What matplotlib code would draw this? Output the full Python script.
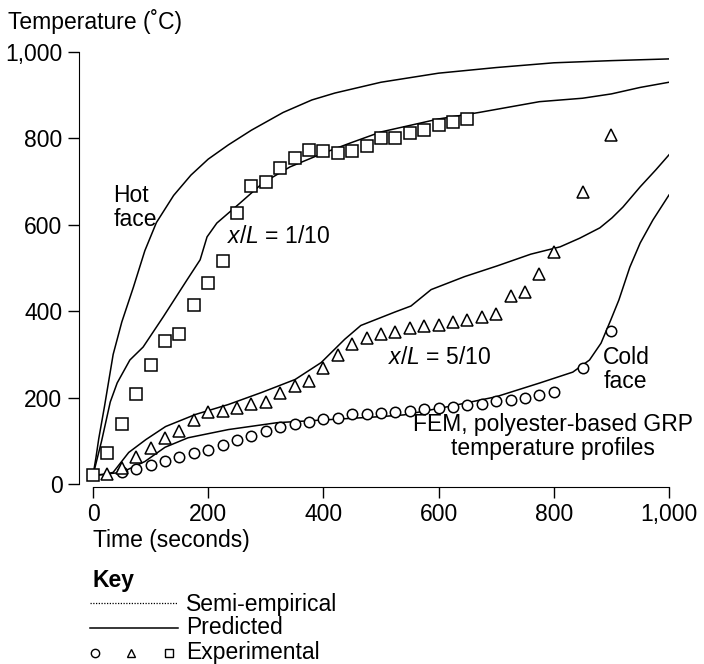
import numpy as np
import matplotlib
matplotlib.use('Agg')
import matplotlib.pyplot as plt
from matplotlib.lines import Line2D
from matplotlib.ticker import FuncFormatter

plt.rcParams['font.family'] = ['Liberation Sans', 'DejaVu Sans']
plt.rcParams['mathtext.fontset'] = 'custom'
plt.rcParams['mathtext.it'] = 'Liberation Sans:italic'
plt.rcParams['mathtext.rm'] = 'Liberation Sans'

# experimental points
t_sq = [0, 25, 50, 75, 100, 125, 150, 175, 200, 225, 250, 275, 300, 325, 350, 375,
        400, 425, 450, 475, 500, 525, 550, 575, 600, 625, 650]
T_sq = [20, 72, 140, 208, 275, 332, 348, 414, 466, 517, 628, 690, 700, 732, 755, 772,
        770, 766, 770, 782, 800, 800, 812, 820, 830, 837, 845]

t_tri = [25, 50, 75, 100, 125, 150, 175, 200, 225, 250, 275, 300, 325, 350, 375, 400,
         425, 450, 475, 500, 525, 550, 575, 600, 625, 650, 675, 700, 725, 750, 775, 800,
         850, 900]
T_tri = [22, 38, 62, 83, 106, 122, 148, 166, 169, 175, 185, 190, 210, 227, 238, 268,
         298, 324, 338, 347, 352, 361, 366, 368, 375, 379, 386, 393, 435, 444, 486, 537,
         676, 808]

t_circ = [50, 75, 100, 125, 150, 175, 200, 225, 250, 275, 300, 325, 350, 375, 400, 425,
          450, 475, 500, 525, 550, 575, 600, 625, 650, 675, 700, 725, 750, 775, 800,
          850, 900]
T_circ = [27, 34, 44, 53, 62, 71, 78, 90, 101, 111, 122, 131, 138, 143, 150, 152,
          162, 162, 164, 166, 168, 173, 175, 178, 182, 185, 192, 194, 199, 206, 213,
          268, 354]

# predicted curves
t_hot = [0, 5, 10, 20, 35, 50, 70, 90, 110, 140, 170, 200, 235, 275, 330, 380, 420,
         500, 600, 700, 800, 900, 1000]
T_hot = [20, 60, 105, 180, 300, 375, 455, 540, 605, 668, 715, 752, 785, 819, 860, 889,
         905, 930, 951, 964, 975, 980, 984]

t_110 = [0, 15, 30, 42, 64, 87, 122, 163, 186, 198, 215, 255, 295, 342, 400, 446, 500,
         600, 670, 775, 850, 900, 950, 1000]
T_110 = [20, 100, 190, 234, 287, 317, 387, 472, 519, 572, 604, 650, 697, 734, 766, 789,
         815, 845, 860, 885, 893, 903, 918, 930]

t_510 = [0, 20, 35, 62, 92, 126, 178, 235, 293, 351, 396, 437, 465, 524, 552, 587, 645,
         702, 760, 811, 845, 880, 901, 920, 950, 977, 1000]
T_510 = [20, 22, 27, 73, 103, 133, 161, 184, 212, 242, 281, 335, 367, 398, 412, 450,
         480, 505, 532, 549, 569, 593, 616, 641, 688, 727, 762]

t_cold = [0, 50, 90, 125, 165, 235, 320, 410, 500, 540, 620, 700, 776, 833, 862, 882,
          899, 913, 932, 950, 972, 1000]
T_cold = [20, 27, 52, 85, 107, 126, 142, 149, 156, 160, 180, 202, 234, 259, 287, 326,
          380, 426, 502, 558, 611, 669]

fs = 16.5
W, H = 704, 664
fig = plt.figure(figsize=(W / 100, H / 100), dpi=100)
ax = fig.add_axes([93 / W, (H - 484) / H, 576 / W, 432 / H])

lw = 1.1
for tt, TT in [(t_hot, T_hot), (t_110, T_110), (t_510, T_510), (t_cold, T_cold)]:
    ax.plot(tt, TT, color='black', lw=lw, zorder=2)

mk = dict(linestyle='none', markerfacecolor='white', markeredgecolor='black',
          markeredgewidth=1.1, zorder=3, clip_on=False)
ax.plot(t_circ, T_circ, marker='o', markersize=7.5, **mk)
ax.plot(t_tri, T_tri, marker='^', markersize=8, **mk)
ax.plot(t_sq, T_sq, marker='s', markersize=8, **mk)

ax.set_xlim(0, 1000)
ax.set_ylim(0, 1000)
ax.set_xticks(range(0, 1001, 200))
ax.set_yticks(range(0, 1001, 200))
fmt = FuncFormatter(lambda v, p: f'{int(v):,}')
ax.xaxis.set_major_formatter(fmt)
ax.yaxis.set_major_formatter(fmt)
ax.tick_params(direction='out', length=8, width=1, labelsize=fs, pad=4)
for s in ['top', 'right']:
    ax.spines[s].set_visible(False)
ax.spines['left'].set_position(('outward', 10))
ax.spines['bottom'].set_position(('outward', 2))
ax.spines['left'].set_bounds(0, 1000)
ax.spines['bottom'].set_bounds(0, 1000)

# annotations
ax.text(35, 641, 'Hot\nface', fontsize=fs, ha='left', va='center', linespacing=1.05)
ax.text(232, 573, r'$x/L$ = 1/10', fontsize=fs, ha='left', va='center')
ax.text(512, 293, r'$x/L$ = 5/10', fontsize=fs, ha='left', va='center')
ax.text(886, 265, 'Cold\nface', fontsize=fs, ha='left', va='center', linespacing=1.05)
ax.text(799, 110, 'FEM, polyester-based GRP\ntemperature profiles', fontsize=fs,
        ha='center', va='center', linespacing=1.05)

fig.text(8 / W, 1 - 22 / H, 'Temperature (˚C)', fontsize=fs, ha='left', va='center')
fig.text(93 / W, 1 - 540 / H, 'Time (seconds)', fontsize=fs, ha='left', va='center')

# key
fig.text(93 / W, 1 - 580 / H, 'Key', fontsize=fs, fontweight='bold', ha='left', va='center')
fig.add_artist(Line2D([90 / W, 178 / W], [1 - 603 / H, 1 - 603 / H], color='black',
                      lw=0.9, linestyle=(0, (1, 1.2))))
fig.text(186 / W, 1 - 604 / H, 'Semi-empirical', fontsize=fs, ha='left', va='center')
fig.add_artist(Line2D([90 / W, 178 / W], [1 - 628 / H, 1 - 628 / H], color='black', lw=1.1))
fig.text(186 / W, 1 - 628 / H, 'Predicted', fontsize=fs, ha='left', va='center')
for xm, m in [(95, 'o'), (131, '^'), (169, 's')]:
    fig.add_artist(Line2D([xm / W], [1 - 653 / H], marker=m, markersize=6,
                          markerfacecolor='white', markeredgecolor='black',
                          markeredgewidth=1, linestyle='none'))
fig.text(186 / W, 1 - 652 / H, 'Experimental', fontsize=fs, ha='left', va='center')

fig.savefig('out.png', dpi=100)
